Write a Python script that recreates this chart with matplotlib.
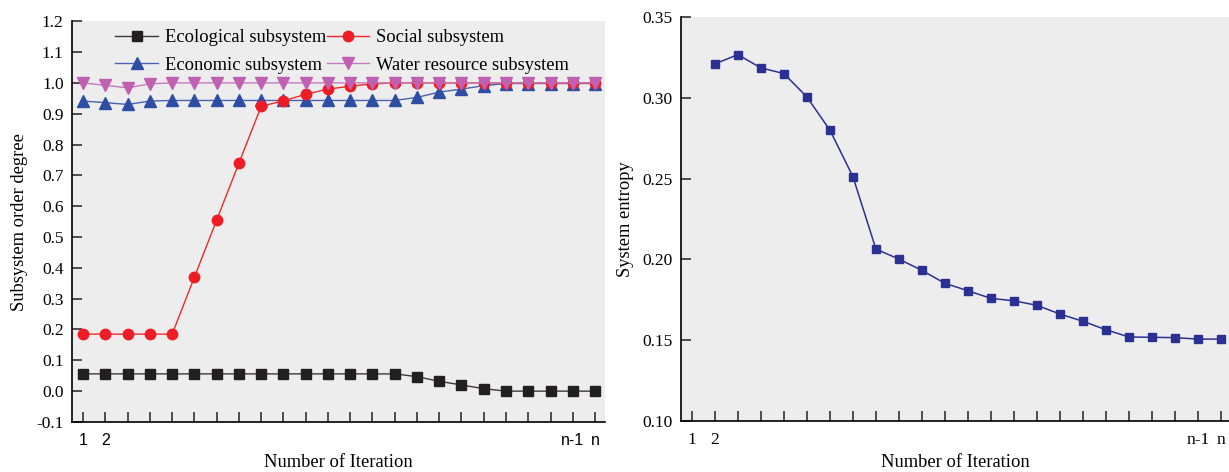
import matplotlib.pyplot as plt

# iterations 1..n (24 steps shown)
iters = list(range(1, 25))
tick_labels = ['1', '2'] + [''] * 20 + ['n-1', 'n']

ecological = [0.056, 0.056, 0.056, 0.056, 0.056, 0.056, 0.056, 0.056, 0.056, 0.056,
              0.056, 0.056, 0.056, 0.056, 0.056, 0.047, 0.032, 0.020, 0.008, 0.0,
              0.0, 0.0, 0.0, 0.0]
social = [0.185, 0.185, 0.185, 0.185, 0.185, 0.370, 0.555, 0.740, 0.924, 0.942,
          0.963, 0.980, 0.989, 0.997, 1.0, 1.0, 1.0, 1.0, 1.0, 1.0,
          1.0, 1.0, 1.0, 1.0]
economic = [0.941, 0.936, 0.930, 0.941, 0.943, 0.943, 0.943, 0.943, 0.943, 0.943,
            0.943, 0.943, 0.943, 0.943, 0.943, 0.953, 0.970, 0.980, 0.991, 0.998,
            0.998, 0.998, 0.998, 0.998]
water = [1.0, 0.992, 0.984, 0.997, 1.0, 1.0, 1.0, 1.0, 1.0, 1.0,
         1.0, 1.0, 1.0, 1.0, 1.0, 1.0, 1.0, 1.0, 1.0, 1.0,
         1.0, 1.0, 1.0, 1.0]

entropy_iters = list(range(2, 25))
entropy = [0.321, 0.3267, 0.3185, 0.315, 0.3005, 0.280, 0.2512, 0.2064, 0.2002, 0.1932,
           0.1852, 0.1806, 0.1759, 0.1744, 0.1716, 0.1662, 0.1617, 0.1565, 0.1520, 0.1518,
           0.1516, 0.1507, 0.1507]

serif = 'Liberation Serif'
bg = '#ededed'

fig = plt.figure(figsize=(12.29, 4.72), dpi=100)
ax1 = fig.add_axes([0.0586, 0.106, 0.4337, 0.849])
ax2 = fig.add_axes([0.554, 0.108, 0.446, 0.856])

for ax in (ax1, ax2):
    ax.set_facecolor(bg)
    ax.spines['top'].set_visible(False)
    ax.spines['right'].set_visible(False)
    ax.spines['left'].set_linewidth(1.2)
    ax.spines['bottom'].set_linewidth(1.2)
    ax.tick_params(direction='in', length=7, width=1.1, color='#222222')
    ax.tick_params(axis='y', pad=6)
    ax.tick_params(axis='x', pad=8)
    ax.set_xticks(iters)
    ax.set_xticklabels(tick_labels)

# left panel: subsystem order degree
ax1.plot(iters, ecological, color='#3a3a3a', lw=1, marker='s', ms=6.5,
         mfc='#231f20', mec='#231f20', label='Ecological subsystem')
ax1.plot(iters, economic, color='#4a62b0', lw=1, marker='^', ms=8,
         mfc='#2e4ea3', mec='#2e4ea3', label='Economic subsystem')
ax1.plot(iters, social, color='#ee2a2a', lw=1, marker='o', ms=7.5,
         mfc='#ee1c25', mec='#ee1c25', label='Social subsystem')
ax1.plot(iters, water, color='#c878c0', lw=1, marker='v', ms=8,
         mfc='#c060b0', mec='#c060b0', label='Water resource subsystem')

ax1.set_xlim(0.5, 24.45)
ax1.set_ylim(-0.1, 1.2)
ax1.set_yticks([i / 10 for i in range(-1, 13)])
ax1.set_yticklabels(['%.1f' % (i / 10) for i in range(-1, 13)], family=serif, fontsize=12.5)
for t in ax1.get_xticklabels():
    t.set_family('Liberation Sans')
    t.set_fontsize(11.5)
ax1.set_xlabel('Number of Iteration', family=serif, fontsize=13.3, labelpad=4)
ax1.set_ylabel('Subsystem order degree', family=serif, fontsize=13.3, labelpad=6)
ax1.legend(ncol=2, loc='upper left', bbox_to_anchor=(0.0675, 0.998), frameon=False,
           prop={'family': serif, 'size': 13.3}, handlelength=2.3, handletextpad=0.4,
           columnspacing=0.0, labelspacing=0.55, borderaxespad=0)

# right panel: system entropy
ax2.plot(entropy_iters, entropy, color='#2b3192', lw=1.1, marker='s', ms=6.3,
         mfc='#2b3192', mec='#2b3192')
ax2.set_xlim(0.52, 24.35)
ax2.set_ylim(0.10, 0.35)
ax2.set_yticks([0.10, 0.15, 0.20, 0.25, 0.30, 0.35])
ax2.set_yticklabels(['0.10', '0.15', '0.20', '0.25', '0.30', '0.35'], family=serif, fontsize=12.5)
for t in ax2.get_xticklabels():
    t.set_family(serif)
    t.set_fontsize(12.5)
ax2.set_xlabel('Number of Iteration', family=serif, fontsize=13.3, labelpad=4)
ax2.set_ylabel('System entropy', family=serif, fontsize=13.3, labelpad=6)

fig.savefig('out.png', dpi=100)
